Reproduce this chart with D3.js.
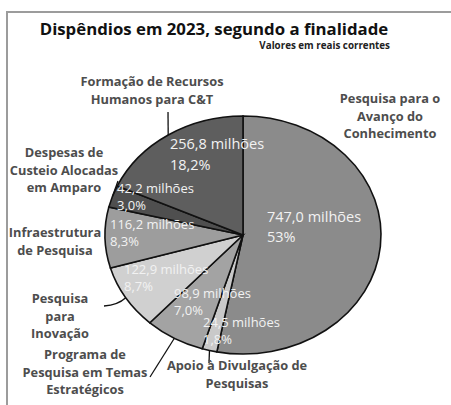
<!DOCTYPE html>
<html>
<head>
<meta charset="utf-8">
<script src="https://cdn.jsdelivr.net/npm/d3@7"></script>
<style>
  body { margin: 0; background: #fff; }
  text { font-family: "Open Sans", sans-serif; }
</style>
</head>
<body>
<div class="chart"></div>
<script>
// data, clockwise from 12 o'clock
const categories = [
    "Pesquisa para o Avanço do Conhecimento",
    "Apoio à Divulgação de Pesquisas",
    "Programa de Pesquisa em Temas Estratégicos",
    "Pesquisa para Inovação",
    "Infraestrutura de Pesquisa",
    "Despesas de Custeio Alocadas em Amparo",
    "Formação de Recursos Humanos para C&T"
];
const values = [747.0, 24.5, 98.9, 122.9, 116.2, 42.2, 256.8];
const valueLabels = ["747,0 milhões", "24,5 milhões", "98,9 milhões", "122,9 milhões", "116,2 milhões", "42,2 milhões", "256,8 milhões"];
const percentLabels = ["53%", "1,8%", "7,0%", "8,7%", "8,3%", "3,0%", "18,2%"];
const categoryLines = [
    ["Pesquisa para o", "Avanço do", "Conhecimento"],
    ["Apoio à Divulgação de", "Pesquisas"],
    ["Programa de", "Pesquisa em Temas", "Estratégicos"],
    ["Pesquisa", "para", "Inovação"],
    ["Infraestrutura", "de Pesquisa"],
    ["Despesas de", "Custeio Alocadas", "em Amparo"],
    ["Formação de Recursos", "Humanos para C&T"]
];
const colors = ["#8b8b8b", "#c9c9c9", "#a3a3a3", "#d0d0d0", "#9d9d9d", "#4f4f4f", "#5e5e5e"];

const width = 451, height = 405;
const cx = 243, cy = 235, rx = 138, ry = 119;

// where the texts sit (x, first baseline, line gap)
const valuePos = [[267, 222, 19.5], [203, 327, 17], [174, 298, 17], [124, 274, 17], [110, 229, 17], [117, 193, 17], [170, 149, 20.5]];
const catPos = [[390, 103], [237, 370], [85, 359], [60, 303], [55, 237], [64, 157], [152, 86]];
// start of each leader line (null = none)
const leaderStart = [null, [209, 363], [150, 377], [104, 306], null, [118, 181], [168, 112]];

const svg = d3.select(".chart").append("svg")
    .attr("width", width)
    .attr("height", height);

svg.append("rect").attr("width", width).attr("height", height).attr("fill", "#fff");

// frame
svg.append("path")
    .attr("d", `M7,${height} L7,12 L${width},12`)
    .attr("fill", "none")
    .attr("stroke", "#9c9c9c")
    .attr("stroke-width", 2);

// title
svg.append("text")
    .attr("x", 214).attr("y", 35)
    .attr("text-anchor", "middle")
    .style("font-size", "16.8px")
    .style("font-weight", "700")
    .attr("fill", "#111")
    .text("Dispêndios em 2023, segundo a finalidade");

svg.append("text")
    .attr("x", 390).attr("y", 49)
    .attr("text-anchor", "end")
    .style("font-size", "9.8px")
    .style("font-weight", "700")
    .attr("fill", "#222")
    .text("Valores em reais correntes");

const arcs = d3.pie().sort(null).value(d => d)(values);
const arc = d3.arc().innerRadius(0).outerRadius(ry);

const pieG = svg.append("g")
    .attr("transform", `translate(${cx},${cy}) scale(${rx / ry},1)`);

pieG.selectAll("path")
    .data(arcs)
    .enter().append("path")
    .attr("d", arc)
    .attr("fill", (d, i) => colors[i])
    .attr("stroke", "#111")
    .attr("stroke-width", 1.6)
    .style("vector-effect", "non-scaling-stroke");

// point on the pie edge at a given angle
function edgePoint(a) {
    return [cx + rx * Math.sin(a), cy - ry * Math.cos(a)];
}

// leader lines
arcs.forEach((d, i) => {
    const s = leaderStart[i];
    if (!s) return;
    const mid = (d.startAngle + d.endAngle) / 2;
    const e = edgePoint(mid);
    const p = d3.path();
    p.moveTo(s[0], s[1]);
    if (i === 3) {
        p.quadraticCurveTo(s[0] + 14, s[1] - 1, e[0], e[1]);
    } else {
        p.lineTo(e[0], e[1]);
    }
    svg.append("path")
        .attr("d", p.toString())
        .attr("fill", "none")
        .attr("stroke", "#111")
        .attr("stroke-width", 1.3);
});

// values inside slices
arcs.forEach((d, i) => {
    const t = svg.append("text")
        .attr("x", valuePos[i][0])
        .attr("y", valuePos[i][1])
        .attr("fill", "#f2f2f2")
        .style("font-size", i === 0 || i === 6 ? "14.5px" : "13px");
    t.append("tspan").attr("x", valuePos[i][0]).text(valueLabels[i]);
    t.append("tspan").attr("x", valuePos[i][0]).attr("dy", valuePos[i][2]).text(percentLabels[i]);
});

// category labels
categoryLines.forEach((lines, i) => {
    const t = svg.append("text")
        .attr("x", catPos[i][0])
        .attr("y", catPos[i][1])
        .attr("text-anchor", "middle")
        .attr("fill", "#4d4d4d")
        .style("font-size", "12.8px")
        .style("font-weight", "700");
    lines.forEach((l, j) => {
        t.append("tspan")
            .attr("x", catPos[i][0])
            .attr("dy", j === 0 ? 0 : 17.5)
            .text(l);
    });
});
</script>
</body>
</html>
